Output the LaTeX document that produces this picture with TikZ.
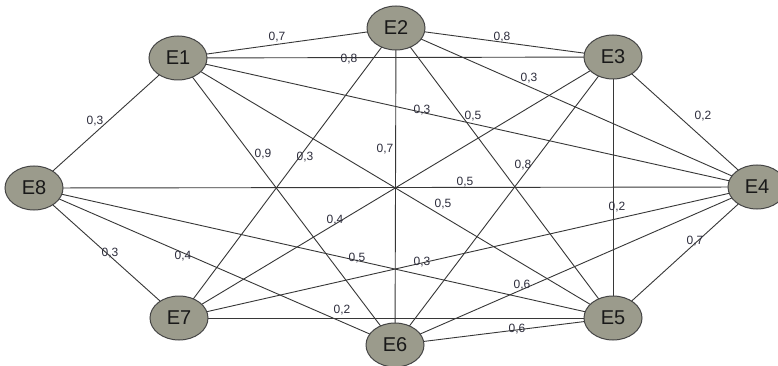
\documentclass[tikz,border=0pt]{standalone}
\usepackage{fontspec}
\setmainfont{Liberation Sans}
\usetikzlibrary{shapes.geometric,backgrounds}
\definecolor{nodefill}{RGB}{155,155,140}
\definecolor{nodeline}{RGB}{70,70,70}
\definecolor{edgeline}{RGB}{55,55,55}
\definecolor{weightc}{RGB}{45,45,60}
\begin{document}
\begin{tikzpicture}[x=1pt,y=-1pt,
  vertex/.style={ellipse, draw=nodeline, line width=1pt, fill=nodefill,
    minimum width=58pt, minimum height=44pt, inner sep=0pt,
    font=\fontsize{20}{20}\selectfont, text=black!90},
  edgeln/.style={draw=edgeline, line width=0.9pt},
  wlabel/.style={font=\fontsize{12}{12}\selectfont, text=weightc,
    inner sep=0pt, text height=8.6pt, text depth=0pt}]
\useasboundingbox (0,0) rectangle (778,366);

% vertices
\node[vertex] (E1) at (178,58)  {E1};
\node[vertex] (E2) at (396,28)  {E2};
\node[vertex] (E3) at (613,57)  {E3};
\node[vertex] (E4) at (757,187) {E4};
\node[vertex] (E5) at (613,318) {E5};
\node[vertex] (E6) at (395,345) {E6};
\node[vertex] (E7) at (179,318) {E7};
\node[vertex] (E8) at (34,188)  {E8};

% weighted edges, drawn behind the vertices
\begin{scope}[on background layer]
\fill[white] (0,0) rectangle (778,366);
\draw[edgeln] (E1.center) -- (E2.center) node[wlabel] at (277,36)  {0,7};
\draw[edgeln] (E1.center) -- (E3.center) node[wlabel] at (349,58)  {0,8};
\draw[edgeln] (E1.center) -- (E4.center) node[wlabel] at (422,109) {0,3};
\draw[edgeln] (E1.center) -- (E5.center) node[wlabel] at (443,203) {0,5};
\draw[edgeln] (E1.center) -- (E6.center) node[wlabel] at (263,153) {0,9};
\draw[edgeln] (E1.center) -- (E8.center) node[wlabel] at (95,120)  {0,3};
\draw[edgeln] (E2.center) -- (E3.center) node[wlabel] at (502,36)  {0,8};
\draw[edgeln] (E2.center) -- (E4.center) node[wlabel] at (529,77)  {0,3};
\draw[edgeln] (E2.center) -- (E5.center) node[wlabel] at (473,115) {0,5};
\draw[edgeln] (E2.center) -- (E6.center) node[wlabel] at (385,148) {0,7};
\draw[edgeln] (E2.center) -- (E7.center) node[wlabel] at (305,156) {0,3};
\draw[edgeln] (E3.center) -- (E4.center) node[wlabel] at (703,115) {0,2};
\draw[edgeln] (E3.center) -- (E5.center) node[wlabel] at (617,206) {0,2};
\draw[edgeln] (E3.center) -- (E6.center) node[wlabel] at (523,164) {0,8};
\draw[edgeln] (E3.center) -- (E7.center) node[wlabel] at (335,219) {0,4};
\draw[edgeln] (E4.center) -- (E5.center) node[wlabel] at (695,240) {0,7};
\draw[edgeln] (E4.center) -- (E6.center) node[wlabel] at (522,284) {0,6};
\draw[edgeln] (E4.center) -- (E7.center) node[wlabel] at (422,261) {0,3};
\draw[edgeln] (E4.center) -- (E8.center) node[wlabel] at (465,181) {0,5};
\draw[edgeln] (E5.center) -- (E6.center) node[wlabel] at (517,328) {0,6};
\draw[edgeln] (E5.center) -- (E7.center) node[wlabel] at (342,309) {0,2};
\draw[edgeln] (E5.center) -- (E8.center) node[wlabel] at (357,257) {0,5};
\draw[edgeln] (E6.center) -- (E8.center) node[wlabel] at (183,255) {0,4};
\draw[edgeln] (E7.center) -- (E8.center) node[wlabel] at (110,252) {0,3};
\end{scope}
\end{tikzpicture}
\end{document}
